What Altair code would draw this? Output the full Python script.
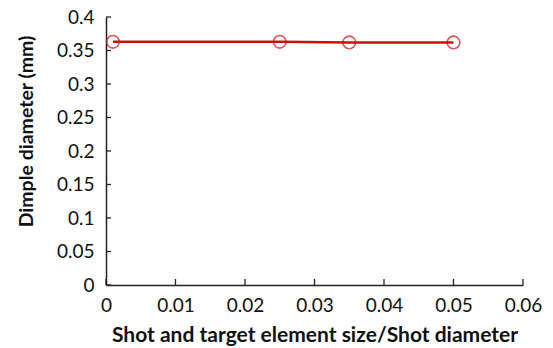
import altair as alt
import pandas as pd

# Measured dimple diameter versus element size ratio
ratio = [0.001, 0.025, 0.035, 0.05]
dimple_mm = [0.363, 0.363, 0.362, 0.362]

x_ticks = [0, 0.01, 0.02, 0.03, 0.04, 0.05, 0.06]
y_ticks = [0, 0.05, 0.1, 0.15, 0.2, 0.25, 0.3, 0.35, 0.4]

df = pd.DataFrame({"ratio": ratio, "dimple": dimple_mm})
xt = pd.DataFrame({"t": x_ticks})
yt = pd.DataFrame({"t": y_ticks})

FONT = "Lato"
RED = "#c81010"

xscale = alt.Scale(domain=[0, 0.06], nice=False, zero=True)
yscale = alt.Scale(domain=[0, 0.4], nice=False)

x_axis = alt.Axis(
    values=x_ticks, format="~g", ticks=False, grid=False,
    title="Shot and target element size/Shot diameter",
    titleFont=FONT, titleFontSize=21, titleFontWeight="bold", titleColor="#111",
    titlePadding=9, labelFont=FONT, labelFontSize=19, labelColor="#111",
    labelPadding=11, domainColor="#222", domainWidth=1.5, labelFlush=False,
    labelOverlap=False,
)
y_axis = alt.Axis(
    values=y_ticks, format="~g", ticks=False, grid=False,
    title="Dimple diameter (mm)",
    titleFont=FONT, titleFontSize=19.5, titleFontWeight="bold", titleColor="#111",
    titlePadding=20, titleY=114, labelFont=FONT, labelFontSize=19, labelColor="#111",
    labelPadding=12, domainColor="#222", domainWidth=1.5, labelOverlap=False,
)

line = alt.Chart(df).mark_line(color=RED, strokeWidth=2.5).encode(
    x=alt.X("ratio:Q", scale=xscale, axis=x_axis),
    y=alt.Y("dimple:Q", scale=yscale, axis=y_axis),
)
points = alt.Chart(df).mark_point(
    shape="circle", filled=False, color=RED, size=160, strokeWidth=1.6
).encode(
    x=alt.X("ratio:Q", scale=xscale, axis=x_axis),
    y=alt.Y("dimple:Q", scale=yscale, axis=y_axis),
)

# Inward-pointing tick marks
xtick_marks = alt.Chart(xt).mark_rule(color="#222", strokeWidth=1.3).encode(
    x=alt.X("t:Q", scale=xscale, axis=x_axis), y=alt.value(262), y2=alt.value(268)
)
ytick_marks = alt.Chart(yt).mark_rule(color="#222", strokeWidth=1.3).encode(
    y=alt.Y("t:Q", scale=yscale, axis=y_axis), x=alt.value(0), x2=alt.value(5)
)

chart = (
    alt.layer(line, points, xtick_marks, ytick_marks)
    .properties(
        width=417, height=268,
        autosize=alt.AutoSizeParams(type="none"),
        padding={"left": 106, "top": 17, "right": 30, "bottom": 63},
        background="white",
    )
    .configure_view(stroke=None)
)

chart.save("out.html", embed_options={"renderer": "svg", "actions": False})
